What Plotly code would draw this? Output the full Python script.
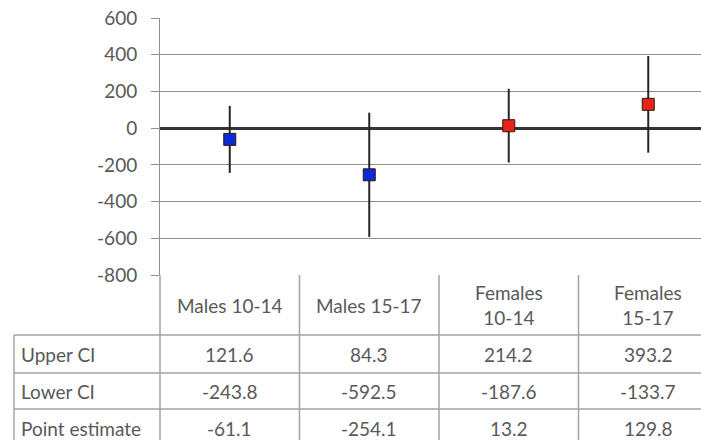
import plotly.graph_objects as go

# ---- data ----
categories = ["Males 10-14", "Males 15-17", "Females 10-14", "Females 15-17"]
header_labels = ["Males 10-14", "Males 15-17", "Females<br>10-14", "Females<br>15-17"]
upper_ci = [121.6, 84.3, 214.2, 393.2]
lower_ci = [-243.8, -592.5, -187.6, -133.7]
point_est = [-61.1, -254.1, 13.2, 129.8]
marker_colors = ["#0a2ad6", "#0a2ad6", "#e8231a", "#e8231a"]
row_labels = ["Upper CI", "Lower CI", "Point estimate"]
y_ticks = [600, 400, 200, 0, -200, -400, -600, -800]

W, H = 701, 440
FONT = "Lato"
TXT = "#595959"
GRID = "#8e8e8e"
TBL = "#a3a3a3"
FS = 19

def px(x):
    return x / W

def py(y):
    return 1 - y / H

plot_left, plot_top, plot_bottom = 160, 18, 275
cat_w = 139.5
xs = list(range(len(categories)))

fig = go.Figure()
fig.add_trace(go.Scatter(
    x=xs, y=point_est, mode="markers",
    marker=dict(symbol="square", size=12, color=marker_colors,
                line=dict(color="#2a1a10", width=1)),
    error_y=dict(type="data", symmetric=False,
                 array=[u - p for u, p in zip(upper_ci, point_est)],
                 arrayminus=[p - l for p, l in zip(point_est, lower_ci)],
                 color="#262626", thickness=2, width=0),
    showlegend=False, hoverinfo="skip",
))

x_right = (W - (plot_left + cat_w / 2)) / cat_w

fig.update_layout(
    width=W, height=H, autosize=False,
    margin=dict(l=0, r=0, t=0, b=0, pad=0),
    paper_bgcolor="white", plot_bgcolor="white",
    xaxis=dict(domain=[px(plot_left), 1], range=[-0.5, x_right], automargin=False,
               showgrid=False, zeroline=False, showticklabels=False,
               ticks="", showline=False, fixedrange=True),
    yaxis=dict(domain=[py(plot_bottom), py(plot_top)], range=[-800, 600], automargin=False,
               tickvals=y_ticks, ticktext=[str(v) for v in y_ticks],
               showgrid=True, gridcolor=GRID, gridwidth=1,
               zeroline=True, zerolinecolor="#333333", zerolinewidth=3,
               showline=True, linecolor=GRID, linewidth=1,
               ticks="outside", ticklen=8, tickcolor=GRID, tickwidth=1,
               ticklabelstandoff=10,
               tickfont=dict(family=FONT, size=FS, color=TXT),
               fixedrange=True),
)

shapes = []
def hline(y, x0, x1):
    shapes.append(dict(type="line", xref="paper", yref="paper",
                       x0=px(x0), x1=px(x1), y0=py(y), y1=py(y),
                       line=dict(color=TBL, width=1.5)))
def vline(x, y0, y1):
    shapes.append(dict(type="line", xref="paper", yref="paper",
                       x0=px(x), x1=px(x), y0=py(y0), y1=py(y1),
                       line=dict(color=TBL, width=1.5)))

row_lines = [335, 373, 409]
for y in row_lines:
    hline(y, 14, W)
vline(14, 335, H)
for i in range(len(categories)):
    vline(plot_left + i * cat_w, 275, H)

annotations = []
hdr_mid = (275 + 335) / 2
for i, lab in enumerate(header_labels):
    cx = plot_left + (i + 0.5) * cat_w
    annotations.append(dict(xref="paper", yref="paper", x=px(cx), y=py(hdr_mid),
                            text=lab, showarrow=False, xanchor="center", yanchor="middle",
                            font=dict(family=FONT, size=FS, color=TXT)))

row_vals = [upper_ci, lower_ci, point_est]
row_mids = [354, 391, 428]
for r, (lab, vals) in enumerate(zip(row_labels, row_vals)):
    annotations.append(dict(xref="paper", yref="paper", x=px(19), y=py(row_mids[r]),
                            text=lab, showarrow=False, xanchor="left", yanchor="middle",
                            font=dict(family=FONT, size=FS, color=TXT)))
    for i, v in enumerate(vals):
        cx = plot_left + (i + 0.5) * cat_w
        annotations.append(dict(xref="paper", yref="paper", x=px(cx), y=py(row_mids[r]),
                                text=f"{v:.1f}", showarrow=False, xanchor="center", yanchor="middle",
                                font=dict(family=FONT, size=FS, color=TXT)))

fig.update_layout(shapes=shapes, annotations=annotations)
fig.write_html("out.html", config={"displayModeBar": False, "staticPlot": True},
               post_script="document.body.style.margin='0';document.body.style.overflow='hidden';")
